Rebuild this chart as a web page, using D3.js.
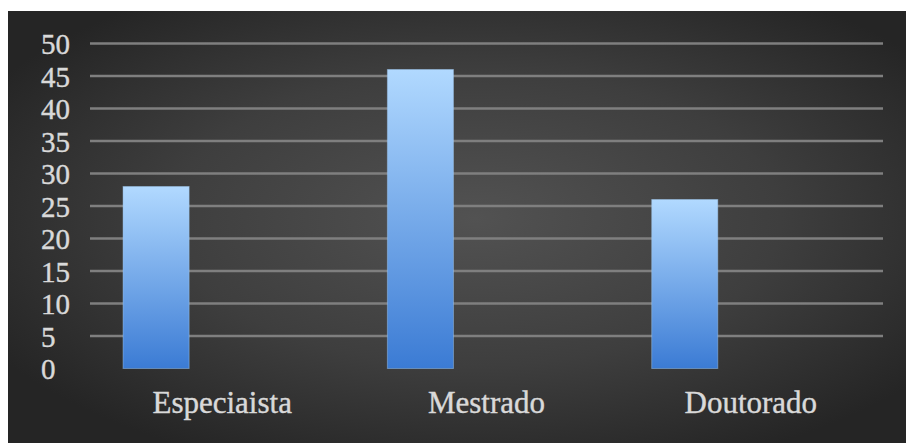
<!DOCTYPE html>
<html>
<head>
<meta charset="utf-8">
<script src="https://cdn.jsdelivr.net/npm/d3@7"></script>
<style>
  html, body { margin: 0; padding: 0; background: #ffffff; }
  svg { display: block; }
</style>
</head>
<body>
<svg id="chart" width="906" height="443"></svg>
<script>
// Categories and their values (percent of respondents)
const categories = ["Especiaista", "Mestrado", "Doutorado"];
const values = [28, 46, 26];
// Series slots per category (only the first slot carries a bar)
const slots = ["s1", "s2", "s3"];
const yTicks = [0, 5, 10, 15, 20, 25, 30, 35, 40, 45, 50];

const W = 906, H = 443;
const svg = d3.select("#chart");
const defs = svg.append("defs");

// Dark radial background
const bg = defs.append("radialGradient")
  .attr("id", "bgGrad")
  .attr("cx", "52%").attr("cy", "48%").attr("r", "62%");
bg.append("stop").attr("offset", "0%").attr("stop-color", "#525252");
bg.append("stop").attr("offset", "55%").attr("stop-color", "#3e3e3e");
bg.append("stop").attr("offset", "100%").attr("stop-color", "#252525");

// Vertical gradient for each bar
const barGrad = defs.append("linearGradient")
  .attr("id", "barGrad")
  .attr("x1", 0).attr("y1", 0).attr("x2", 0).attr("y2", 1);
barGrad.append("stop").attr("offset", "0%").attr("stop-color", "#b1d9ff");
barGrad.append("stop").attr("offset", "100%").attr("stop-color", "#3b7bd4");

svg.append("rect")
  .attr("x", 8).attr("y", 11)
  .attr("width", W - 8).attr("height", H - 11)
  .attr("fill", "url(#bgGrad)");

const plot = { left: 90, right: 883, top: 43.5, bottom: 368.5 };

const x = d3.scaleBand()
  .domain(categories)
  .range([plot.left, plot.right])
  .paddingInner(0).paddingOuter(0);

// Inner band for series slots: gap width of 100% of one bar
const xs = d3.scaleBand()
  .domain(slots)
  .range([0, x.bandwidth()])
  .paddingOuter(0.5).paddingInner(0);

const y = d3.scaleLinear()
  .domain([0, 50])
  .range([plot.bottom, plot.top]);

const fontFam = "'Liberation Serif', 'Times New Roman', serif";

// Horizontal gridlines (no line at zero)
svg.append("g")
  .selectAll("line")
  .data(yTicks.filter(d => d > 0))
  .join("line")
  .attr("x1", plot.left).attr("x2", plot.right)
  .attr("y1", d => y(d)).attr("y2", d => y(d))
  .attr("stroke", "#7f7f7f")
  .attr("stroke-width", 2.3);

// Y axis labels
const yAxis = d3.axisLeft(y).tickValues(yTicks).tickSize(0).tickPadding(0);
const gy = svg.append("g").attr("transform", "translate(41,0)").call(yAxis);
gy.select(".domain").remove();
gy.selectAll("text")
  .attr("text-anchor", "start")
  .attr("x", 0)
  .attr("dy", null)
  .attr("y", 10)
  .attr("fill", "#d9d9d9")
  .attr("stroke", "#d9d9d9")
  .attr("stroke-width", 0.4)
  .style("font-family", fontFam)
  .style("font-size", "29px");

// Bars
svg.append("g")
  .selectAll("rect")
  .data(categories.map((c, i) => ({ c, v: values[i] })))
  .join("rect")
  .attr("x", d => x(d.c) + xs("s1"))
  .attr("width", xs.bandwidth())
  .attr("y", d => y(d.v))
  .attr("height", d => y(0) - y(d.v))
  .attr("fill", "url(#barGrad)")
  .attr("stroke", "#9fc9f2")
  .attr("stroke-opacity", 0.45)
  .attr("stroke-width", 1);

// Category labels
const xAxis = d3.axisBottom(x).tickSize(0).tickPadding(0);
const gx = svg.append("g").attr("transform", "translate(0,413)").call(xAxis);
gx.select(".domain").remove();
gx.selectAll("text")
  .attr("dy", null)
  .attr("y", 0)
  .attr("fill", "#d9d9d9")
  .attr("stroke", "#d9d9d9")
  .attr("stroke-width", 0.4)
  .style("font-family", fontFam)
  .style("font-size", "31px");
</script>
</body>
</html>
